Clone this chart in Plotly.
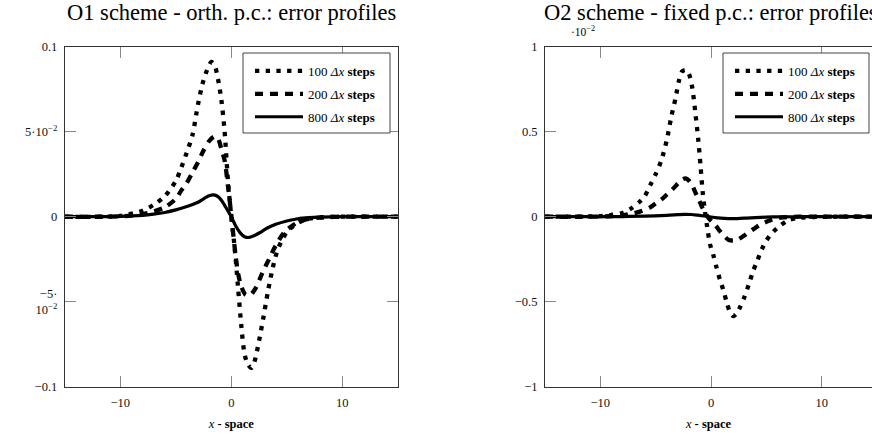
import plotly.graph_objects as go

# ---------------- data ----------------
series_names = ["100 <i>Δx</i> <b>steps</b>", "200 <i>Δx</i> <b>steps</b>", "800 <i>Δx</i> <b>steps</b>"]

# O1 scheme - orth. p.c.
o1_x_100 = [-15, -10, -8, -7, -6, -5, -4.5, -4, -3.5, -3, -2.6, -2.2, -1.8, -1.5, -1.2, -0.9, -0.6, -0.3, 0.0,
            0.3, 0.6, 0.9, 1.2, 1.5, 1.8, 2.1, 2.5, 2.9, 3.3, 3.7, 4.1, 4.5, 5.0, 5.6, 6.2, 7, 8, 10, 15]
o1_y_100 = [0, 0.0005, 0.0035, 0.007, 0.012, 0.021, 0.029, 0.038, 0.048, 0.066, 0.078, 0.086, 0.091, 0.089, 0.081,
            0.069, 0.050, 0.021, 0.0, -0.018, -0.041, -0.064, -0.081, -0.087, -0.089, -0.085, -0.073, -0.059,
            -0.044, -0.031, -0.021, -0.0145, -0.009, -0.0055, -0.003, -0.0012, -0.0004, 0, 0]

o1_x_200 = [-15, -10, -8, -7, -6, -5, -4.5, -4, -3.5, -3, -2.5, -2.0, -1.5, -1.2, -0.9, -0.6, -0.3, 0.0, 0.3, 0.6,
            0.9, 1.3, 1.7, 2.2, 2.8, 3.4, 4.0, 4.8, 5.8, 6.8, 8, 10, 15]
o1_y_200 = [0, 0.0002, 0.0015, 0.003, 0.0055, 0.0105, 0.0155, 0.020, 0.026, 0.032, 0.039, 0.0445, 0.0472, 0.046,
            0.040, 0.033, 0.018, 0.001, -0.018, -0.033, -0.041, -0.046, -0.046, -0.042, -0.033, -0.025, -0.017,
            -0.009, -0.004, -0.0015, -0.0005, 0, 0]

o1_x_800 = [-15, -10, -8, -7, -6, -5, -4, -3, -2.5, -2.0, -1.6, -1.2, -0.8, -0.4, 0.0, 0.4, 0.8, 1.2, 1.6, 2.0,
            2.6, 3.2, 4.0, 5, 6, 7, 8, 10, 15]
o1_y_800 = [0, 0.0002, 0.0008, 0.0015, 0.0025, 0.004, 0.006, 0.0085, 0.0105, 0.0123, 0.0128, 0.0118, 0.0088,
            0.0045, 0.0, -0.0055, -0.0095, -0.0118, -0.0122, -0.0113, -0.0093, -0.0068, -0.0045, -0.0025,
            -0.0012, -0.0006, -0.0003, 0, 0]

# O2 scheme - fixed p.c. (values in units of 10^-2)
o2_x_100 = [-15, -10, -9, -8, -7.3, -6.5, -6, -5.5, -5, -4.5, -4, -3.6, -3.2, -2.9, -2.6, -2.3, -2.0, -1.7, -1.4,
            -1.15, -0.95, -0.75, -0.55, -0.35, -0.1, 0.2, 0.5, 0.8, 1.1, 1.4, 1.7, 2.0, 2.3, 2.6, 3.0, 3.4, 3.8,
            4.2, 4.6, 5.0, 5.6, 6.3, 7, 8, 10, 15]
o2_y_100 = [0, 0.003, 0.01, 0.022, 0.045, 0.085, 0.12, 0.185, 0.25, 0.33, 0.45, 0.585, 0.70, 0.80, 0.855, 0.863,
            0.84, 0.76, 0.60, 0.45, 0.30, 0.14, 0.03, -0.06, -0.16, -0.225, -0.30, -0.37, -0.43, -0.50, -0.56,
            -0.585, -0.57, -0.535, -0.475, -0.40, -0.32, -0.255, -0.19, -0.14, -0.09, -0.05, -0.02, -0.006,
            -0.001, 0]

o2_x_200 = [-15, -10, -8, -7, -6.2, -5.5, -5, -4.5, -4, -3.5, -3, -2.6, -2.3, -2.0, -1.7, -1.4, -1.1, -0.8, -0.5,
            -0.2, 0.1, 0.4, 0.8, 1.2, 1.6, 2.0, 2.4, 2.9, 3.4, 3.9, 4.4, 5.0, 5.6, 6.3, 7, 8, 15]
o2_y_200 = [0, 0.001, 0.008, 0.02, 0.035, 0.055, 0.078, 0.10, 0.13, 0.16, 0.195, 0.218, 0.225, 0.212, 0.185, 0.14,
            0.10, 0.055, 0.02, -0.01, -0.03, -0.05, -0.085, -0.115, -0.137, -0.14, -0.135, -0.115, -0.092, -0.07,
            -0.048, -0.03, -0.015, -0.005, -0.002, 0, 0]

o2_x_800 = [-15, -8, -6, -4, -3, -2.4, -1.8, -1.2, -0.6, 0, 0.6, 1.2, 1.8, 2.4, 3.2, 4, 5, 6, 8, 15]
o2_y_800 = [0, 0.001, 0.003, 0.008, 0.012, 0.014, 0.013, 0.009, 0.004, -0.002, -0.007, -0.010, -0.0115, -0.011,
            -0.008, -0.005, -0.0025, -0.001, 0, 0]

x_tickvals = [-10, 0, 10]
x_ticktext = ["−10", "0", "10"]
o1_tickvals = [-0.1, -0.05, 0, 0.05, 0.1]
o1_ticktext = ["−0.1", "−5·<br>10<sup>−2</sup>", "0", "5·10<sup>−2</sup>", "0.1"]
o2_tickvals = [-1, -0.5, 0, 0.5, 1]
o2_ticktext = ["−1", "−0.5", "0", "0.5", "1"]

# ---------------- figure ----------------
W, H = 872, 436
FONT = "Liberation Serif"
styles = [dict(width=4.3, dash="4.3px,6.4px"), dict(width=4.3, dash="8px,7px"), dict(width=3.2, dash="solid")]

fig = go.Figure()
for xs, ys, nm, st in zip([o1_x_100, o1_x_200, o1_x_800], [o1_y_100, o1_y_200, o1_y_800], series_names, styles):
    fig.add_trace(go.Scatter(x=xs, y=ys, name=nm, mode="lines", line=dict(color="black", shape="spline",
                  smoothing=0.8, **st), xaxis="x", yaxis="y", legend="legend", legendgroup="a" + nm))
for xs, ys, nm, st in zip([o2_x_100, o2_x_200, o2_x_800], [o2_y_100, o2_y_200, o2_y_800], series_names, styles):
    fig.add_trace(go.Scatter(x=xs, y=ys, name=nm, mode="lines", line=dict(color="black", shape="spline",
                  smoothing=0.8, **st), xaxis="x2", yaxis="y2", legend="legend2", legendgroup="b" + nm))

y0 = (H - 386.7) / H
y1 = (H - 46.7) / H
ax_common = dict(showgrid=False, zeroline=False, showline=True, linecolor="#333", linewidth=1,
                 ticks="inside", ticklen=11, tickcolor="#888", tickwidth=1,
                 tickfont=dict(family=FONT, size=12.5, color="#111"), ticklabelstandoff=4)
xtitle = dict(text="<i>x</i> <b>- space</b>", font=dict(family=FONT, size=12.5), standoff=10)

leg_common = dict(xanchor="left", yanchor="top", bgcolor="rgba(0,0,0,0)", borderwidth=0, itemwidth=48,
                  tracegroupgap=3, font=dict(family=FONT, size=13, color="black"))

fig.update_layout(
    width=W, height=H, margin=dict(l=0, r=0, t=0, b=0, autoexpand=False),
    plot_bgcolor="white", paper_bgcolor="white",
    font=dict(family=FONT, color="black"),
    xaxis=dict(domain=[64.8 / W, 397.8 / W], range=[-15, 15], mirror="ticks", tickvals=x_tickvals,
               ticktext=x_ticktext, title=xtitle, anchor="y", **ax_common),
    yaxis=dict(domain=[y0, y1], range=[-0.1, 0.1], mirror="ticks", tickvals=o1_tickvals,
               ticktext=o1_ticktext, anchor="x", **ax_common),
    xaxis2=dict(domain=[545 / W, 1.0], range=[-15, (W - 545) / 11.07 - 15], mirror="ticks",
                tickvals=x_tickvals, ticktext=x_ticktext, title=xtitle, anchor="y2", **ax_common),
    yaxis2=dict(domain=[y0, y1], range=[-1, 1], mirror=False, tickvals=o2_tickvals, ticktext=o2_ticktext,
                anchor="x2", **ax_common),
    legend=dict(x=250 / W, y=1 - 56 / H, **leg_common),
    legend2=dict(x=730 / W, y=1 - 56 / H, **leg_common),
    showlegend=True,
)

# legend boxes (white, opaque, thin dark border)
for bx0, bx1 in [(243, 390), (723, 869)]:
    fig.add_shape(type="rect", xref="paper", yref="paper", x0=bx0 / W, x1=bx1 / W, y0=1 - 133 / H, y1=1 - 53 / H,
                  fillcolor="white", line=dict(color="#444", width=1), layer="above")

fig.add_annotation(text="O1 scheme - orth. p.c.: error profiles", xref="x domain", yref="paper", x=0.5,
                   y=1 - 12 / H, xanchor="center", yanchor="middle", showarrow=False,
                   font=dict(family=FONT, size=22.5, color="black"))
fig.add_annotation(text="O2 scheme - fixed p.c.: error profiles", xref="x2", yref="paper", x=0,
                   y=1 - 12 / H, xanchor="center", yanchor="middle", showarrow=False,
                   font=dict(family=FONT, size=22.5, color="black"))
fig.add_annotation(text="·10<sup>−2</sup>", xref="paper", yref="paper", x=583 / W, y=1 - 31 / H,
                   xanchor="center", yanchor="middle", showarrow=False,
                   font=dict(family=FONT, size=11.5, color="black"))

fig.write_html("out.html", config={"displayModeBar": False},
               post_script="document.body.style.margin='0';")
